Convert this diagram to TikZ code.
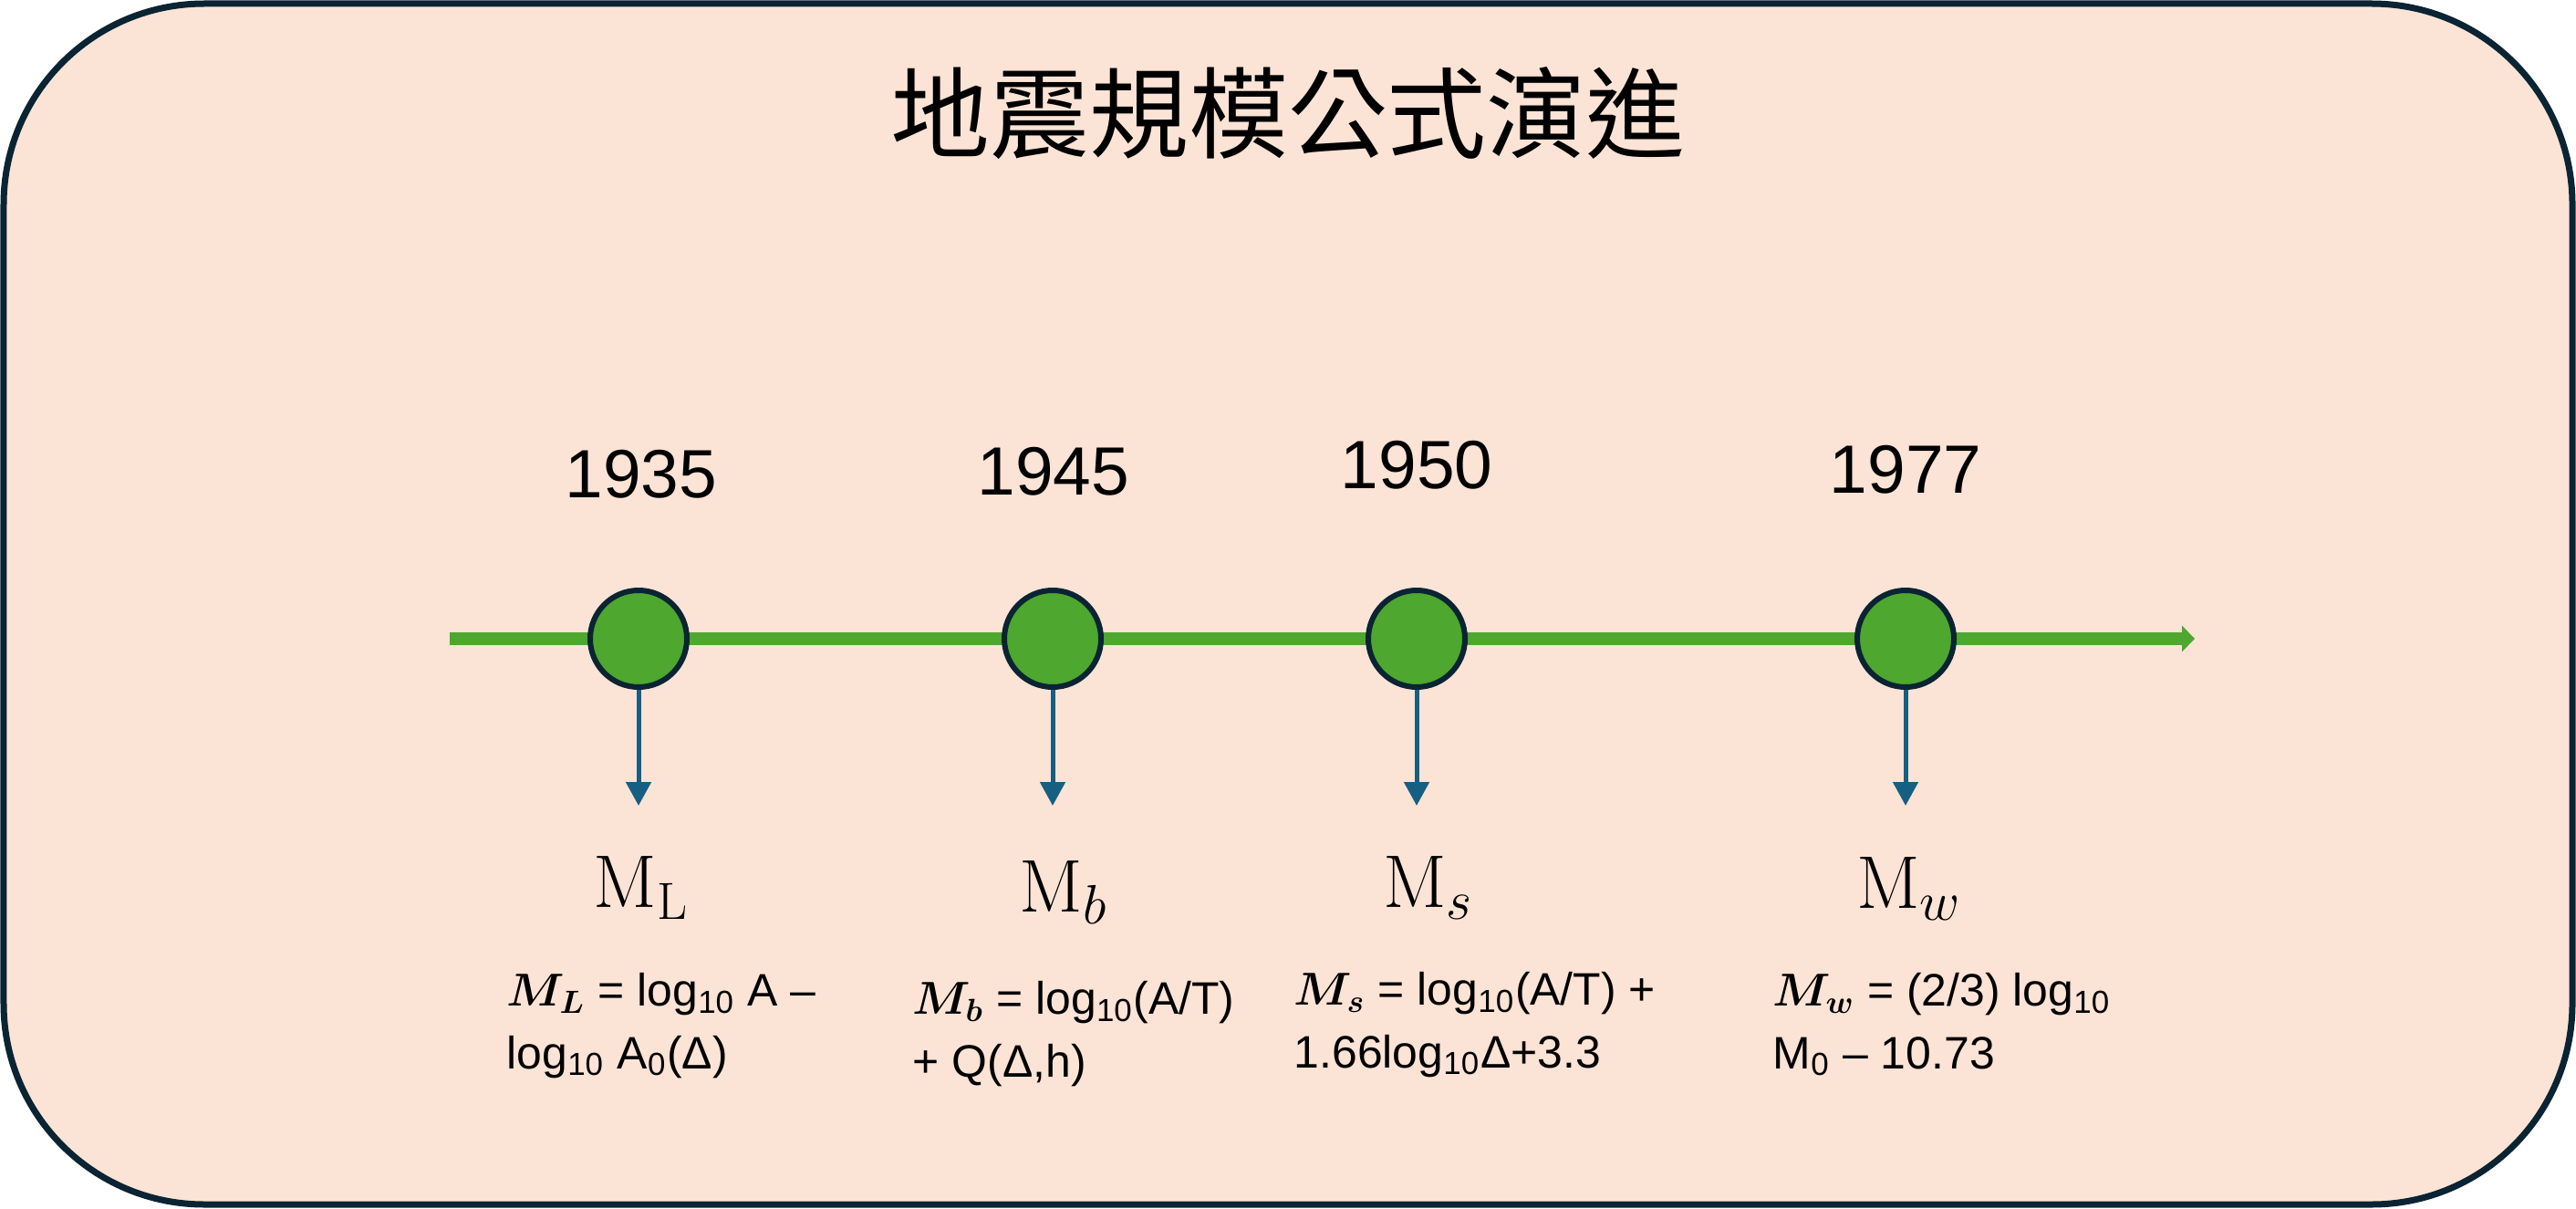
\documentclass[tikz,border=0pt]{standalone}
\usepackage{fontspec}
\usepackage{amsmath}
\newfontfamily\cjk{Noto Sans CJK TC}
\newfontfamily\arialf{Liberation Sans}
\usetikzlibrary{arrows.meta}
\definecolor{peach}{HTML}{FBE3D6}
\definecolor{navy}{HTML}{0A2433}
\definecolor{lgreen}{HTML}{4EA72E}
\definecolor{teal}{HTML}{156082}
\tikzset{
	frame/.style={draw=navy,line width=0.07cm,fill=peach,rounded corners=2.2cm},
	titletext/.style={font=\cjk\fontsize{31}{36}\selectfont},
	timeline/.style={draw=lgreen,line width=0.14cm,-{Triangle[width=0.28cm,length=0.14cm]}},
	dot/.style={circle,draw=navy,line width=0.06cm,fill=lgreen,minimum size=1.06cm,inner sep=0},
	year/.style={font=\arialf\fontsize{21.3}{24}\selectfont,inner sep=0},
	pointer/.style={draw=teal,line width=0.05cm,-{Triangle[width=0.27cm,length=0.26cm]}},
	mag/.style={font=\fontsize{23.3}{28}\selectfont,inner sep=0,anchor=base},
	formula/.style={font=\arialf\fontsize{14.2}{19.4}\selectfont,align=left,inner sep=0,anchor=base west}
}
\begin{document}
\begin{tikzpicture}
	\useasboundingbox (0,0) rectangle (28.24,13.24);
	\draw[frame] (0.04,0.04) rectangle (28.20,13.20);
	\node[titletext] (title) at (14.12,12.00) {地震規模公式演進};
	\coordinate (start) at (4.93,6.24);
	\coordinate (end) at (24.06,6.24);
	\draw[timeline] (start) -- (end);
	\node[dot] (p35) at (7.00,6.24) {};
	\node[dot] (p45) at (11.54,6.24) {};
	\node[dot] (p50) at (15.53,6.24) {};
	\node[dot] (p77) at (20.89,6.24) {};
	\node[year] (y35) at (7.03,8.04) {1935};
	\node[year] (y45) at (11.55,8.07) {1945};
	\node[year] (y50) at (15.53,8.14) {1950};
	\node[year] (y77) at (20.89,8.09) {1977};
	\coordinate (a35) at (7.00,4.41);
	\coordinate (a45) at (11.54,4.41);
	\coordinate (a50) at (15.53,4.41);
	\coordinate (a77) at (20.89,4.41);
	\draw[pointer] (p35) -- (a35);
	\draw[pointer] (p45) -- (a45);
	\draw[pointer] (p50) -- (a50);
	\draw[pointer] (p77) -- (a77);
	\node[mag] (m35) at (7.03,3.30) {$\mathrm{M_L}$};
	\node[mag] (m45) at (11.66,3.25) {$\mathrm{M}_b$};
	\node[mag] (m50) at (15.66,3.30) {$\mathrm{M}_s$};
	\node[mag] (m77) at (20.93,3.29) {$\mathrm{M}_w$};
	\node[formula] (f35) at (5.55,1.53) {$\boldsymbol{M_L}$ = log\textsubscript{10} A –\\log\textsubscript{10} A\textsubscript{0}(Δ)};
	\node[formula] (f45) at (10.00,1.44) {$\boldsymbol{M_b}$ = log\textsubscript{10}(A/T)\\+ Q(Δ,h)};
	\node[formula] (f50) at (14.18,1.54) {$\boldsymbol{M_s}$ = log\textsubscript{10}(A/T) +\\1.66log\textsubscript{10}Δ+3.3};
	\node[formula] (f77) at (19.43,1.53) {$\boldsymbol{M_w}$ = (2/3) log\textsubscript{10}\\M\textsubscript{0} – 10.73};
\end{tikzpicture}
\end{document}
